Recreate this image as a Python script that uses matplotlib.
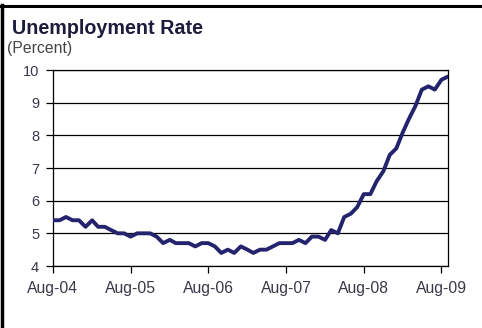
import matplotlib
matplotlib.use("Agg")
import matplotlib.pyplot as plt
from matplotlib.lines import Line2D
import datetime as dt

plt.rcParams['font.family'] = ['Liberation Sans', 'DejaVu Sans']

# Monthly unemployment rate, Aug-2004 .. Sep-2009
start_year, start_month = 2004, 8
rates = [
    5.4, 5.4, 5.5, 5.4, 5.4,                                  # Aug-Dec 2004
    5.2, 5.4, 5.2, 5.2, 5.1, 5.0, 5.0, 4.9, 5.0, 5.0, 5.0, 4.9,  # 2005
    4.7, 4.8, 4.7, 4.7, 4.7, 4.6, 4.7, 4.7, 4.6, 4.4, 4.5, 4.4,  # 2006
    4.6, 4.5, 4.4, 4.5, 4.5, 4.6, 4.7, 4.7, 4.7, 4.8, 4.7, 4.9,  # 2007
    4.9, 4.8, 5.1, 5.0, 5.5, 5.6, 5.8, 6.2, 6.2, 6.6, 6.9, 7.4,  # 2008
    7.6, 8.1, 8.5, 8.9, 9.4, 9.5, 9.4, 9.7, 9.8,                 # Jan-Sep 2009
]
tick_labels = ["Aug-04", "Aug-05", "Aug-06", "Aug-07", "Aug-08", "Aug-09"]
y_ticks = [4, 5, 6, 7, 8, 9, 10]

dates = []
for i in range(len(rates)):
    m = start_month - 1 + i
    dates.append(dt.date(start_year + m // 12, m % 12 + 1, 1))
tick_dates = [dt.date(2004 + k, 8, 1) for k in range(len(tick_labels))]

fig = plt.figure(figsize=(4.82, 3.28), dpi=100)
fig.patch.set_facecolor('white')
ax = fig.add_axes([53/482, 1 - 266/328, (448 - 53)/482, (266 - 70)/328])

ax.plot(dates, rates, color='#24246e', linewidth=2.8, solid_joinstyle='round',
        solid_capstyle='round', zorder=3)

ax.set_ylim(4, 10)
ax.set_xlim(dates[0], dates[-1])
ax.set_yticks(y_ticks)
ax.set_yticklabels([str(v) for v in y_ticks])
ax.set_xticks(tick_dates)
ax.set_xticklabels(tick_labels)
ax.yaxis.grid(True, color='black', linewidth=0.9)
ax.set_axisbelow(True)
for s in ax.spines.values():
    s.set_color('black')
    s.set_linewidth(0.9)
ax.tick_params(axis='both', direction='out', length=5, width=0.9, color='black',
               labelcolor='#383848')
ax.tick_params(axis='x', pad=6, labelsize=11.3)
ax.tick_params(axis='y', pad=5, labelsize=10.5)

fig.text(12/482, 1 - 34/328, "Unemployment Rate", fontsize=14.2, fontweight='bold',
         color='#1c1c3c', ha='left', va='baseline')
fig.text(7/482, 1 - 53.5/328, "(Percent)", fontsize=11.3, color='#444444',
         ha='left', va='baseline')

# frame lines: top and left only
fig.add_artist(Line2D([0, 1], [1 - 6/328, 1 - 6/328], transform=fig.transFigure,
                      color='black', linewidth=2.2))
fig.add_artist(Line2D([1.5/482, 1.5/482], [0, 1 - 5/328], transform=fig.transFigure,
                      color='black', linewidth=2.5))

fig.savefig("out.png", dpi=100, facecolor='white')
